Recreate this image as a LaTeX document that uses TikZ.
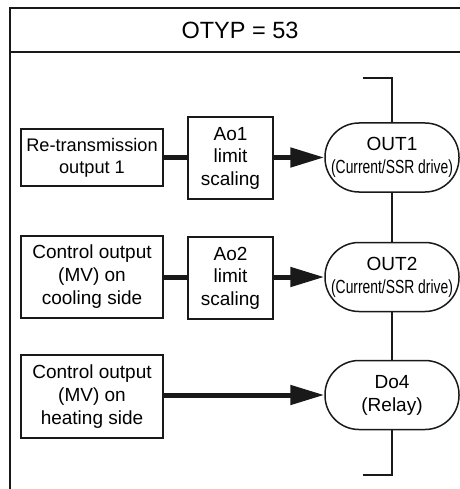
\documentclass[tikz,border=0pt]{standalone}
\usepackage{fontspec}
\setmainfont{Liberation Sans}
\usepackage{graphicx}
\usetikzlibrary{arrows.meta}
\begin{document}
\begin{tikzpicture}[x=1pt,y=-1pt,
  frameline/.style={line width=1.5pt,draw=black!90},
  srcbox/.style={draw=black!90,line width=1.5pt,minimum width=142pt,inner sep=0pt,align=center,font=\fontsize{19}{23}\selectfont},
  scalebox/.style={draw=black!90,line width=1.5pt,minimum width=85pt,minimum height=82pt,inner sep=0pt,align=center,font=\fontsize{19}{22.5}\selectfont},
  outbox/.style={draw=black!90,line width=1.5pt,minimum width=134pt,minimum height=69pt,rounded corners=34pt,inner sep=0pt,align=center,font=\fontsize{19}{23}\selectfont},
  thick link/.style={line width=5pt,draw=black!90},
  arrow link/.style={line width=5pt,draw=black!90,-{Triangle[length=34pt,width=19pt]}},
  thin link/.style={line width=1.5pt,draw=black!90}]
\useasboundingbox (0,0) rectangle (459,489);
% frame
\draw[frameline] (10,491) -- (10,8) -- (461,8);
\draw[frameline] (10,52) -- (461,52);
\node[font=\fontsize{23.5}{26}\selectfont] (title) at (240,30) {OTYP = 53};
% row 1
\node[srcbox,minimum height=57pt,font=\fontsize{18.2}{22}\selectfont] (src1) at (92,157.5) {Re-transmission\\output 1};
\node[scalebox] (ao1) at (230.5,158) {Ao1\\limit\\scaling};
\node[outbox] (out1) at (392,157.5) {OUT1\\{\fontsize{19}{23}\selectfont\scalebox{0.73}[1]{(Current/SSR drive)}}};
% row 2
\node[srcbox,minimum height=82pt] (src2) at (92,277) {Control output\\(MV) on\\cooling side};
\node[scalebox] (ao2) at (230.5,278) {Ao2\\limit\\scaling};
\node[outbox] (out2) at (392,277) {OUT2\\{\fontsize{19}{23}\selectfont\scalebox{0.73}[1]{(Current/SSR drive)}}};
% row 3
\node[srcbox,minimum height=83pt] (src3) at (92,396.5) {Control output\\(MV) on\\heating side};
\node[outbox] (do4) at (392,395) {Do4\\(Relay)};
% connectors
\draw[thick link] (src1.east) -- (src1.east -| ao1.west);
\draw[arrow link] (ao1.east |- out1.west) -- (out1.west);
\draw[thick link] (src2.east) -- (src2.east -| ao2.west);
\draw[arrow link] (ao2.east |- out2.west) -- (out2.west);
\draw[arrow link] (src3.east |- do4.west) -- (do4.west);
% bus line
\coordinate (topstub) at (363,78);
\coordinate (topcorner) at (392,78);
\coordinate (botcorner) at (392,475);
\coordinate (botstub) at (363,475);
\draw[thin link] (topstub) -- (topcorner) -- (out1.north);
\draw[thin link] (out1.south) -- (out2.north);
\draw[thin link] (out2.south) -- (do4.north);
\draw[thin link] (do4.south) -- (botcorner) -- (botstub);
\end{tikzpicture}
\end{document}
